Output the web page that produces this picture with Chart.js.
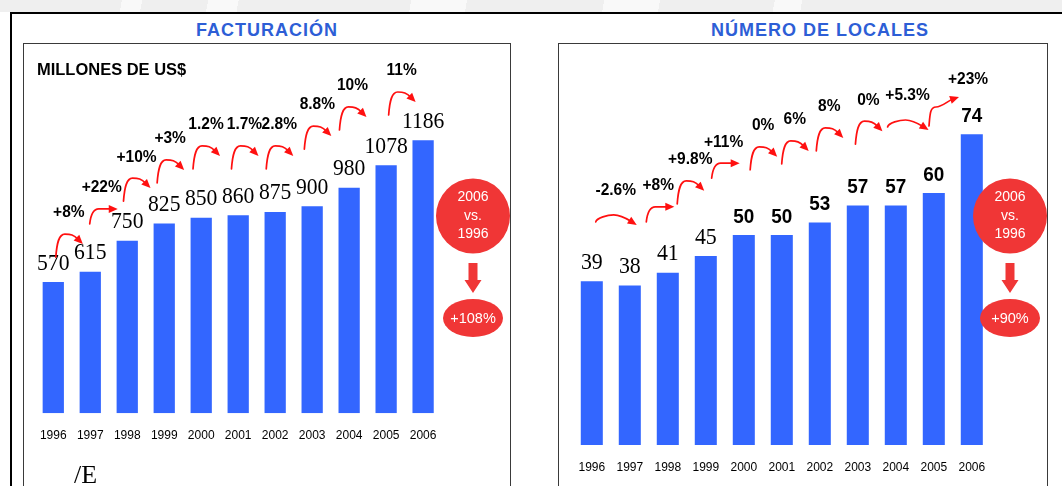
<!DOCTYPE html>
<html>
<head>
<meta charset="utf-8">
<script src="https://cdn.jsdelivr.net/npm/chart.js@4.4.1/dist/chart.umd.min.js"></script>
<style>
  html, body { margin: 0; padding: 0; }
  body {
    width: 1062px; height: 486px; overflow: hidden; position: relative;
    background: #fff; font-family: "Liberation Sans", Arial, sans-serif;
  }
  #topstrip {
    position: absolute; left: 0; top: 0; width: 1062px; height: 12px;
    background: linear-gradient(100deg,
      #efefef 0 120px, #f9f9f9 120px 140px, #efefef 140px 205px, #f9f9f9 205px 235px,
      #efefef 235px 405px, #f9f9f9 405px 460px, #efefef 460px 595px, #f9f9f9 595px 650px,
      #efefef 650px 763px, #f9f9f9 763px 790px, #efefef 790px);
  }
  #frame {
    position: absolute; left: 10px; top: 12px; width: 1060px; height: 480px;
    border-top: 2px solid #000; border-left: 2px solid #000;
  }
  .title {
    position: absolute; top: 21px; width: 400px; text-align: center;
    font-size: 18px; line-height: 18px; font-weight: bold; letter-spacing: 1px;
    color: #2d5ed6;
  }
  .box {
    position: absolute; top: 43px; height: 470px;
    border: 1px solid #3a3a3a; background: #fff;
  }
  .box canvas { position: absolute; left: 0; top: 0; }
  #sign {
    position: absolute; left: 74px; top: 462px;
    font-family: "Liberation Serif", "Times New Roman", serif; font-size: 26px; line-height: 26px;
    color: #000;
  }
</style>
</head>
<body>
<div id="topstrip"></div>
<div id="frame"></div>
<div class="title" style="left:67px;">FACTURACIÓN</div>
<div class="title" style="left:620px;">NÚMERO DE LOCALES</div>
<div class="box" style="left:23px; width:486px;"><canvas id="factChart" width="486" height="470"></canvas></div>
<div class="box" style="left:558px; width:488px;"><canvas id="localChart" width="488" height="470"></canvas></div>
<div id="sign">/E</div>

<script>
const years = ['1996', '1997', '1998', '1999', '2000', '2001', '2002', '2003', '2004', '2005', '2006'];

// Facturación, millones de US$
const facturacion = [570, 615, 750, 825, 850, 860, 875, 900, 980, 1078, 1186];
const facturacionGrowth = ['+8%', '+22%', '+10%', '+3%', '1.2%', '1.7%', '2.8%', '8.8%', '10%', '11%'];
// where each growth note sits: fractional category index and value level
const facturacionGrowthAt = [0.42, 1.31, 2.25, 3.16, 4.13, 5.17, 6.11, 7.14, 8.09, 9.42];
const facturacionGrowthLevel = [870, 979, 1113, 1192, 1253, 1253, 1253, 1339, 1422, 1487];
const facturacionArrows = ['arc', 'hook', 'arc', 'arc', 'arc', 'arc', 'arc', 'arc', 'arc', 'arc'];
const facturacionTotal = '+108%';

// Número de locales
const locales = [39, 38, 41, 45, 50, 50, 53, 57, 57, 60, 74];
const localesGrowth = ['-2.6%', '+8%', '+9.8%', '+11%', '0%', '6%', '8%', '0%', '+5.3%', '+23%'];
const localesGrowthAt = [0.63, 1.75, 2.59, 3.47, 4.51, 5.34, 6.25, 7.28, 8.31, 9.90];
const localesGrowthLevel = [60.5, 61.7, 67.9, 72.1, 76.0, 77.4, 80.5, 82.1, 83.1, 86.9];
const localesArrows = ['flat', 'hook', 'arc', 'hook', 'arc', 'arc', 'arc', 'arc', 'flat', 'rise'];
const localesTotal = '+90%';

const compareLines = ['2006', 'vs.', '1996'];

const BAR_BLUE = '#3366FF';
const BADGE_RED = '#F03636';
const ARROW_RED = '#FF1010';
const SANS = '"Liberation Sans", Arial, sans-serif';
const SERIF = '"Liberation Serif", "Times New Roman", serif';

// curved arrow outlines, offsets from the note centre:
// s = start, p = top of the curve, e = arrow tip, a = where the last stretch comes from
const ARROW_SHAPES = {
  arc:  { s: [-13, 44], p: [-4, 21], e: [14, 31], a: [-8, -8] },
  hook: { s: [-12, 36], p: [-3, 21], e: [16, 21], a: [-8, 0] },
  flat: { s: [-20, 31], p: [-2, 24], e: [21, 34], a: [-8, -5] },
  rise: { s: [-39, 46], p: [-32, 27], e: [-9, 17], a: [-9, 3] }
};

// pixel for a fractional category index
function categoryPixel(xScale, pos) {
  const i = Math.floor(pos);
  const a = xScale.getPixelForValue(i);
  const b = xScale.getPixelForValue(i + 1);
  return a + (b - a) * (pos - i);
}

function squeezedText(ctx, text, x, y, sx) {
  ctx.save();
  ctx.translate(x, y);
  ctx.scale(sx, 1);
  ctx.fillText(text, 0, 0);
  ctx.restore();
}

function curvedArrow(ctx, lx, ly, kind) {
  const shape = ARROW_SHAPES[kind] || ARROW_SHAPES.arc;
  const sx = lx + shape.s[0], sy = ly + shape.s[1];
  const px = lx + shape.p[0], py = ly + shape.p[1];
  const ex = lx + shape.e[0], ey = ly + shape.e[1];
  const c2x = ex + shape.a[0], c2y = ey + shape.a[1];
  const ang = Math.atan2(ey - c2y, ex - c2x);
  const headLen = 9;
  const half = 4;
  const bx = ex - Math.cos(ang) * headLen * 0.7;
  const by = ey - Math.sin(ang) * headLen * 0.7;

  ctx.strokeStyle = ARROW_RED;
  ctx.fillStyle = ARROW_RED;
  ctx.lineWidth = 1.7;
  ctx.lineCap = 'round';
  ctx.beginPath();
  ctx.moveTo(sx, sy);
  ctx.bezierCurveTo(sx + 1, sy - (sy - py) * 0.6, px - 6, py, px, py);
  ctx.bezierCurveTo(px + 6, py, c2x - Math.cos(ang) * 2, c2y - Math.sin(ang) * 2, bx, by);
  ctx.stroke();

  const hx = ex - Math.cos(ang) * headLen;
  const hy = ey - Math.sin(ang) * headLen;
  ctx.beginPath();
  ctx.moveTo(ex, ey);
  ctx.lineTo(hx + Math.sin(ang) * half, hy - Math.cos(ang) * half);
  ctx.lineTo(hx - Math.sin(ang) * half, hy + Math.cos(ang) * half);
  ctx.closePath();
  ctx.fill();
}

function comparisonBadge(ctx, chart, total) {
  const cx = chart.width - 37;
  const cy = 172;

  ctx.fillStyle = BADGE_RED;
  ctx.beginPath();
  ctx.ellipse(cx, cy, 37, 37.5, 0, 0, Math.PI * 2);
  ctx.fill();

  ctx.fillStyle = '#fff';
  ctx.font = '14px ' + SANS;
  ctx.textAlign = 'center';
  ctx.textBaseline = 'middle';
  ctx.fillText(compareLines[0], cx, cy - 18.5);
  ctx.fillText(compareLines[1], cx, cy);
  ctx.fillText(compareLines[2], cx, cy + 18);

  // down arrow
  ctx.fillStyle = BADGE_RED;
  ctx.beginPath();
  ctx.moveTo(cx - 4.5, cy + 47);
  ctx.lineTo(cx + 4.5, cy + 47);
  ctx.lineTo(cx + 4.5, cy + 64);
  ctx.lineTo(cx + 8.5, cy + 64);
  ctx.lineTo(cx, cy + 77);
  ctx.lineTo(cx - 8.5, cy + 64);
  ctx.lineTo(cx - 4.5, cy + 64);
  ctx.closePath();
  ctx.fill();

  ctx.beginPath();
  ctx.ellipse(cx, cy + 102, 30, 19, 0, 0, Math.PI * 2);
  ctx.fill();
  ctx.fillStyle = '#fff';
  ctx.font = '14.5px ' + SANS;
  ctx.fillText(total, cx, cy + 103);
}

function notesPlugin(spec) {
  return {
    id: 'notes_' + spec.id,
    afterDatasetsDraw(chart) {
      const ctx = chart.ctx;
      const xScale = chart.scales.x;
      const yScale = chart.scales.y;
      const meta = chart.getDatasetMeta(0);

      ctx.save();
      // value labels above bars
      ctx.fillStyle = '#000';
      ctx.textAlign = 'center';
      ctx.textBaseline = 'alphabetic';
      meta.data.forEach((bar, i) => {
        const f = spec.valueFont(i);
        ctx.font = f.font;
        squeezedText(ctx, String(spec.values[i]), bar.x, bar.y - 12.5, f.squeeze);
      });

      // growth notes with curved arrows
      spec.growth.forEach((txt, i) => {
        const lx = categoryPixel(xScale, spec.growthAt[i]);
        const ly = yScale.getPixelForValue(spec.growthLevel[i]);
        ctx.fillStyle = '#000';
        ctx.font = 'bold 16px ' + SANS;
        ctx.textAlign = 'center';
        ctx.textBaseline = 'middle';
        squeezedText(ctx, txt, lx, ly, 0.97);
        curvedArrow(ctx, lx, ly, spec.arrows[i]);
      });

      if (spec.unit) {
        ctx.fillStyle = '#000';
        ctx.font = 'bold 16px ' + SANS;
        ctx.textAlign = 'left';
        ctx.textBaseline = 'alphabetic';
        squeezedText(ctx, spec.unit, 13, 31, 1.03);
      }

      comparisonBadge(ctx, chart, spec.total);
      ctx.restore();
    }
  };
}

function buildChart(canvasId, spec) {
  const ctx = document.getElementById(canvasId).getContext('2d');
  return new Chart(ctx, {
    type: 'bar',
    data: {
      labels: years,
      datasets: [{
        data: spec.values,
        backgroundColor: BAR_BLUE,
        borderWidth: 0,
        barPercentage: spec.barPct,
        categoryPercentage: 1
      }]
    },
    options: {
      responsive: false,
      animation: false,
      events: [],
      layout: { padding: spec.padding },
      plugins: {
        legend: { display: false },
        tooltip: { enabled: false }
      },
      scales: {
        x: {
          grid: { display: false, drawTicks: false },
          border: { display: false },
          ticks: {
            color: '#000',
            font: { family: SANS, size: 12 },
            padding: spec.tickPad,
            maxRotation: 0,
            autoSkip: false
          }
        },
        y: { display: false, min: 0, max: spec.yMax }
      }
    },
    plugins: [notesPlugin(spec)]
  });
}

buildChart('factChart', {
  id: 'fact',
  values: facturacion,
  growth: facturacionGrowth,
  growthAt: facturacionGrowthAt,
  growthLevel: facturacionGrowthLevel,
  arrows: facturacionArrows,
  total: facturacionTotal,
  unit: 'MILLONES DE US$',
  yMax: 1600,
  barPct: 0.575,
  tickPad: 15.5,
  padding: { left: 9.6, right: 68.4, top: 1, bottom: 55.3 },
  valueFont: () => ({ font: '24px ' + SERIF, squeeze: 0.9 })
});

buildChart('localChart', {
  id: 'local',
  values: locales,
  growth: localesGrowth,
  growthAt: localesGrowthAt,
  growthLevel: localesGrowthLevel,
  arrows: localesArrows,
  total: localesTotal,
  unit: null,
  yMax: 95,
  barPct: 0.58,
  tickPad: 15.8,
  padding: { left: 13.8, right: 56.2, top: 2, bottom: 23 },
  // the first four counts are set in a serif face in the original
  valueFont: i => (i < 4
    ? { font: '23px ' + SERIF, squeeze: 0.95 }
    : { font: 'bold 21px ' + SANS, squeeze: 0.9 })
});
</script>
</body>
</html>
